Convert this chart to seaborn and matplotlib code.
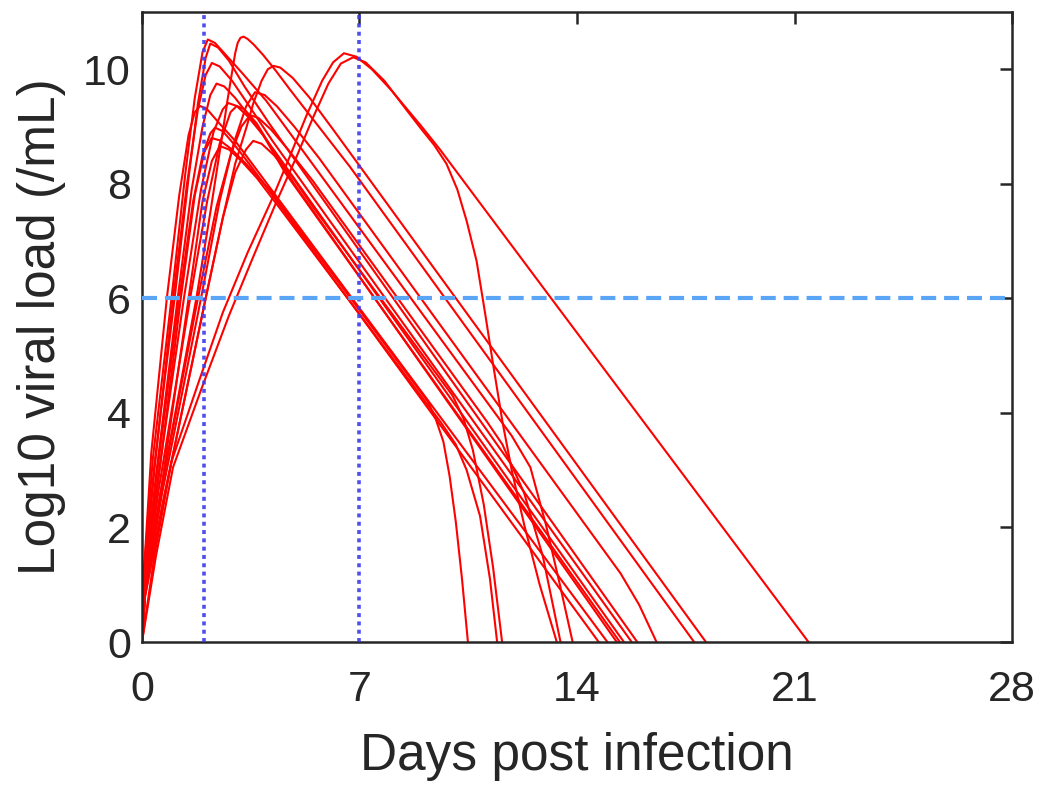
import numpy as np
import pandas as pd
import seaborn as sns
import matplotlib
matplotlib.use('Agg')
import matplotlib.pyplot as plt

### DATA: log10 viral load trajectories (day, log10 /mL)

day_c01 = [0, 0.06, 0.3, 0.8, 1.2, 1.5, 1.7, 1.87, 2.1, 2.5, 3.0, 14.98]
load_c01 = [0, 1.2, 3.3, 6.0, 7.8, 8.85, 9.25, 9.36, 9.3, 9.05, 8.75, 0]

day_c02 = [0, 0.06, 0.35, 0.95, 1.4, 1.7, 1.95, 2.12, 2.35, 2.7, 3.2, 4.0, 11.9, 12.5, 13.0, 13.45, 13.86]
load_c02 = [0, 1.2, 3.2, 6.0, 8.2, 9.5, 10.3, 10.52, 10.46, 10.25, 9.95, 9.45, 3.6, 3.05, 2.05, 1.0, 0]

day_c03 = [0, 0.07, 0.4, 1.05, 1.5, 1.8, 2.05, 2.2, 2.45, 2.8, 3.3, 4.1, 15.94]
load_c03 = [0, 1.2, 3.1, 6.0, 8.1, 9.4, 10.2, 10.45, 10.38, 10.15, 9.7, 9.05, 0]

day_c04 = [0, 0.1, 0.6, 1.75, 2.2, 2.5, 2.75, 2.9, 3.0, 3.08, 3.17, 3.27, 3.4, 3.6, 3.9, 4.3,
           4.8, 5.3, 6.69, 17.77]
load_c04 = [0, 0.9, 2.6, 6.0, 7.5, 8.55, 9.45, 9.95, 10.28, 10.46, 10.55, 10.57, 10.53, 10.43,
            10.25, 9.98, 9.62, 9.27, 8.3, 0]

day_c05 = [0, 0.1, 0.7, 2.05, 2.6, 3.0, 3.37, 3.58, 3.85, 4.05, 4.23, 4.45, 4.85, 5.4, 6.15, 18.15]
load_c05 = [0, 0.8, 2.5, 6.0, 7.4, 8.35, 9.0, 9.4, 9.8, 10.0, 10.06, 10.03, 9.85, 9.5, 8.95, 0]

day_c06 = [0, 0.07, 0.4, 1.0, 1.45, 1.8, 2.05, 2.25, 2.5, 2.9, 3.4, 4.2, 15.76]
load_c06 = [0, 1.1, 3.0, 6.0, 8.0, 9.3, 9.9, 10.11, 10.05, 9.8, 9.4, 8.75, 0]

day_c07 = [0, 0.07, 0.45, 1.15, 1.6, 1.95, 2.2, 2.4, 2.65, 3.0, 3.5, 4.3, 15.51]
load_c07 = [0, 1.0, 2.9, 6.0, 7.9, 9.0, 9.55, 9.75, 9.7, 9.5, 9.15, 8.55, 0]

day_c08 = [0, 0.08, 0.5, 1.35, 1.9, 2.3, 2.6, 2.78, 3.05, 3.4, 3.9, 4.6, 15.38]
load_c08 = [0, 1.0, 2.8, 6.0, 7.9, 8.9, 9.3, 9.41, 9.36, 9.18, 8.85, 8.2, 0]

day_c09 = [0, 0.08, 0.55, 1.55, 2.1, 2.5, 2.85, 3.05, 3.3, 3.7, 4.2, 4.9, 15.28]
load_c09 = [0, 0.9, 2.7, 6.0, 7.7, 8.7, 9.25, 9.36, 9.3, 9.05, 8.6, 8.0, 0]

day_c10 = [0, 0.1, 0.65, 1.9, 2.5, 2.95, 3.35, 3.64, 3.95, 4.35, 4.9, 5.7, 15.4, 16.0, 16.56]
load_c10 = [0, 0.85, 2.6, 6.0, 7.7, 8.7, 9.35, 9.6, 9.55, 9.35, 9.0, 8.45, 1.2, 0.65, 0]

day_c11 = [0, 0.1, 0.6, 1.8, 2.4, 2.85, 3.2, 3.48, 3.75, 4.15, 4.7, 5.5, 11.1, 11.6, 12.3, 12.9, 13.47]
load_c11 = [0, 0.85, 2.6, 6.0, 7.6, 8.5, 9.0, 9.2, 9.15, 8.95, 8.6, 8.05, 3.85, 3.45, 2.6, 1.5, 0]

day_c12 = [0, 0.08, 0.45, 1.2, 1.65, 1.95, 2.2, 2.35, 2.6, 2.95, 3.45, 4.2, 14.70]
load_c12 = [0, 1.0, 2.8, 6.0, 7.7, 8.5, 8.88, 8.98, 8.92, 8.7, 8.35, 7.8, 0]

day_c13 = [0, 0.08, 0.5, 1.25, 1.7, 2.0, 2.24, 2.5, 2.85, 3.35, 4.1, 8.3, 9.2, 9.45, 9.7, 9.9,
           10.1, 10.3, 10.49]
load_c13 = [0, 0.9, 2.7, 6.0, 7.8, 8.55, 8.8, 8.76, 8.62, 8.35, 7.9, 4.85, 4.2, 3.9, 3.5, 2.9,
            2.1, 1.1, 0]

day_c14 = [0, 0.08, 0.6, 1.5, 1.95, 2.25, 2.51, 2.8, 3.2, 3.7, 4.4, 9.6, 10.1, 10.45, 10.88, 11.2, 11.43]
load_c14 = [0, 0.9, 2.6, 6.0, 7.7, 8.4, 8.66, 8.6, 8.4, 8.1, 7.6, 3.85, 3.45, 3.0, 2.2, 1.1, 0]

day_c15 = [0, 0.1, 0.7, 2.05, 2.6, 3.0, 3.35, 3.58, 3.85, 4.25, 4.8, 5.5, 10.0, 10.35, 10.65,
           11.0, 11.3, 11.59]
load_c15 = [0, 0.8, 2.5, 6.0, 7.4, 8.2, 8.6, 8.75, 8.7, 8.5, 8.15, 7.6, 4.3, 3.9, 3.35,
            2.4, 1.3, 0]

day_c16 = [0, 0.4, 0.95, 1.8, 2.6, 3.4, 4.2, 4.76, 5.3, 5.8, 6.15, 6.5, 6.9, 7.4, 8.0, 9.0, 9.59,
           13.13, 21.45]
load_c16 = [0, 1.5, 3.15, 4.5, 5.75, 6.8, 7.75, 8.48, 9.2, 9.8, 10.12, 10.28, 10.22, 10.0, 9.65,
            9.0, 8.6, 6.03, 0]

day_c17 = [0, 0.45, 1.0, 1.9, 2.8, 3.6, 4.3, 4.98, 5.5, 6.0, 6.4, 6.8, 7.2, 7.8, 8.5, 9.0, 9.4,
           9.8, 10.15, 10.45, 10.77, 11.04, 11.3, 11.6, 11.9, 12.3, 12.8, 13.35]
load_c17 = [0, 1.5, 3.05, 4.4, 5.7, 6.75, 7.65, 8.48, 9.15, 9.75, 10.1, 10.21, 10.12, 9.8, 9.3,
            8.95, 8.68, 8.35, 7.9, 7.35, 6.65, 5.75, 4.85, 3.85, 3.0, 2.05, 1.0, 0]

# reference lines
marker_days = [2, 7]
threshold = 6

x_ticks = [0, 7, 14, 21, 28]
y_ticks = [0, 2, 4, 6, 8, 10]


def long_df():
    '''stack all trajectories into one long df for seaborn'''
    curves = [(day_c01, load_c01), (day_c02, load_c02), (day_c03, load_c03),
              (day_c04, load_c04), (day_c05, load_c05), (day_c06, load_c06),
              (day_c07, load_c07), (day_c08, load_c08), (day_c09, load_c09),
              (day_c10, load_c10), (day_c11, load_c11), (day_c12, load_c12),
              (day_c13, load_c13), (day_c14, load_c14), (day_c15, load_c15),
              (day_c16, load_c16), (day_c17, load_c17)]
    frames = []
    for i, (d, v) in enumerate(curves):
        frames.append(pd.DataFrame({'day': d, 'load': v, 'curve': i}))
    return pd.concat(frames, ignore_index=True)


sns.set_theme(style='white')
plt.rcParams['font.family'] = ['Liberation Sans', 'DejaVu Sans']
dark = '#262626'

fig = plt.figure(figsize=(10.43, 7.9), dpi=100)
ax = fig.add_axes([0.1361, 0.1873, 0.8342, 0.7975])

df = long_df()
sns.lineplot(data=df, x='day', y='load', units='curve', estimator=None,
             sort=False, color='red', linewidth=1.5, legend=False, ax=ax,
             zorder=2)

for d in marker_days:
    ax.axvline(d, color='#3c3cf0', alpha=0.9, linewidth=2.6,
               linestyle=(0, (1.1, 1.2)), zorder=3)
ax.axhline(threshold, color='#5aa5f5', linewidth=3.0,
           linestyle=(0, (3.6, 1.9)), zorder=3)

ax.set_xlim(0, 28)
ax.set_ylim(0, 11)
ax.set_xticks(x_ticks)
ax.set_yticks(y_ticks)
ax.set_xlabel('Days post infection', fontsize=37, color=dark, labelpad=16)
ax.set_ylabel('Log10 viral load (/mL)', fontsize=37, color=dark, labelpad=12)
ax.tick_params(direction='in', top=True, right=True, length=8.5, width=1.8,
               labelsize=31, colors=dark)
ax.tick_params(axis='x', pad=20)
ax.tick_params(axis='y', pad=8)
for s in ax.spines.values():
    s.set_color(dark)
    s.set_linewidth(1.8)

fig.savefig('out.png', dpi=100)
